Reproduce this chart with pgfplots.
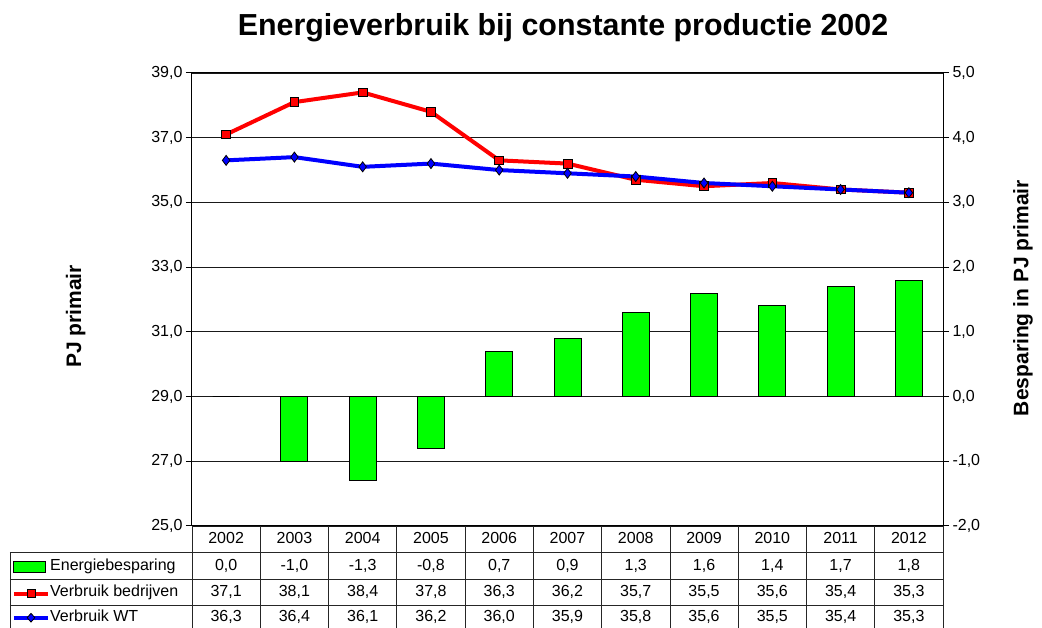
\documentclass[border=0pt]{standalone}
\usepackage{fontspec}
\setmainfont{Liberation Sans}
\usepackage{pgfplots}
\usepackage{pgfplotstable}
\pgfplotsset{compat=1.18}
\usetikzlibrary{shapes.geometric}
\definecolor{barG}{RGB}{0,255,0}
\definecolor{lnR}{RGB}{255,0,0}
\definecolor{lnB}{RGB}{0,0,255}
\newcommand{\tf}{\fontsize{16}{19}\selectfont}

\pgfplotstableread{
x bes bed wt
0 0.0 37.1 36.3
1 -1.0 38.1 36.4
2 -1.3 38.4 36.1
3 -0.8 37.8 36.2
4 0.7 36.3 36.0
5 0.9 36.2 35.9
6 1.3 35.7 35.8
7 1.6 35.5 35.6
8 1.4 35.6 35.5
9 1.7 35.4 35.4
10 1.8 35.3 35.3
}\data

\begin{document}
\begin{tikzpicture}[x=1pt,y=1pt]
\useasboundingbox (-192,-102) rectangle (850,526);
\pgfplotsset{base/.style={
  at={(0,0)}, anchor=south west, scale only axis, width=751pt, height=453pt,
  xmin=-0.5, xmax=10.5, xtick=\empty, enlargelimits=false,
  axis line style={black, line width=1pt},
  tick style={black, line width=1pt}, major tick length=6pt, tick align=outside,
  yticklabel style={/pgf/number format/.cd, fixed, fixed zerofill, precision=1, use comma, assume math mode=true, /tikz/.cd, font=\tf},
}}
\begin{axis}[base, ymin=-2, ymax=5, ytick={-2,-1,...,5}, ytick pos=right, yticklabel pos=right,
  ymajorgrids, grid style={black!90, line width=0.9pt},
  ylabel={Besparing in PJ primair},
  every axis y label/.style={at={(axis description cs:1.1066,0.503)}, rotate=90, anchor=center, font=\bfseries\fontsize{21}{25}\selectfont}]
\addplot[ybar, bar width=27pt, fill=barG, draw=black, line width=1pt] table[x=x,y=bes]{\data};
\end{axis}
\begin{axis}[base, ymin=25, ymax=39, ytick={25,27,...,39}, ytick pos=left,
  title={Energieverbruik bij constante productie 2002},
  every axis title/.style={at={(axis description cs:0.494,1.0817)}, anchor=base, font=\bfseries\fontsize{30.4}{36}\selectfont},
  ylabel={PJ primair},
  every axis y label/.style={at={(axis description cs:-0.155,0.4625)}, rotate=90, anchor=center, font=\bfseries\fontsize{21}{25}\selectfont}]
\addplot[lnR, line width=4pt, mark=square*, mark size=4.4pt, mark options={fill=lnR, draw=black, line width=0.8pt}] table[x=x,y=bed]{\data};
\addplot[lnB, line width=4pt, mark=diamond*, mark size=5pt, mark options={fill=lnB, draw=black, line width=0.8pt}] table[x=x,y=wt]{\data};
\end{axis}
% data table below the chart
\def\cw{68.2727}
\tikzset{tbl/.style={black!85, line width=0.8pt}, cell/.style={font=\tf, text height=11.5pt, text depth=3.5pt, inner sep=0pt}}
\foreach \k in {0,...,11} \draw[tbl] ({\k*\cw},0) -- ({\k*\cw},-110);
\draw[tbl] (-182,-26.5) -- (751,-26.5);
\draw[tbl] (-182,-53.3) -- (751,-53.3);
\draw[tbl] (-182,-79.5) -- (751,-79.5);
\draw[tbl] (-182,-26.5) -- (-182,-110);
\foreach \v [count=\i from 0] in {2002,2003,2004,2005,2006,2007,2008,2009,2010,2011,2012}
  \node[cell] at ({(\i+0.5)*\cw},-13.6) {\v};
\foreach \v [count=\i from 0] in {{0,0},{-1,0},{-1,3},{-0,8},{0,7},{0,9},{1,3},{1,6},{1,4},{1,7},{1,8}}
  \node[cell] at ({(\i+0.5)*\cw},-40.2) {\v};
\foreach \v [count=\i from 0] in {{37,1},{38,1},{38,4},{37,8},{36,3},{36,2},{35,7},{35,5},{35,6},{35,4},{35,3}}
  \node[cell] at ({(\i+0.5)*\cw},-66.6) {\v};
\foreach \v [count=\i from 0] in {{36,3},{36,4},{36,1},{36,2},{36,0},{35,9},{35,8},{35,6},{35,5},{35,4},{35,3}}
  \node[cell] at ({(\i+0.5)*\cw},-91.6) {\v};
% legend keys
\filldraw[fill=barG, draw=black, line width=1pt] (-178,-35.7) rectangle (-146,-46.5);
\draw[lnR, line width=4pt] (-178,-67.8) -- (-144,-67.8);
\node[draw=black, fill=lnR, line width=0.8pt, minimum size=8pt, inner sep=0pt] at (-161,-67.8) {};
\draw[lnB, line width=4pt] (-178,-91.7) -- (-144,-91.7);
\node[diamond, draw=black, fill=lnB, line width=0.8pt, minimum width=8pt, minimum height=9pt, inner sep=0pt] at (-161,-91.7) {};
\node[cell, anchor=west] at (-142,-40.2) {Energiebesparing};
\node[cell, anchor=west] at (-142,-66.6) {Verbruik bedrijven};
\node[cell, anchor=west] at (-142,-91.6) {Verbruik WT};
\end{tikzpicture}
\end{document}
